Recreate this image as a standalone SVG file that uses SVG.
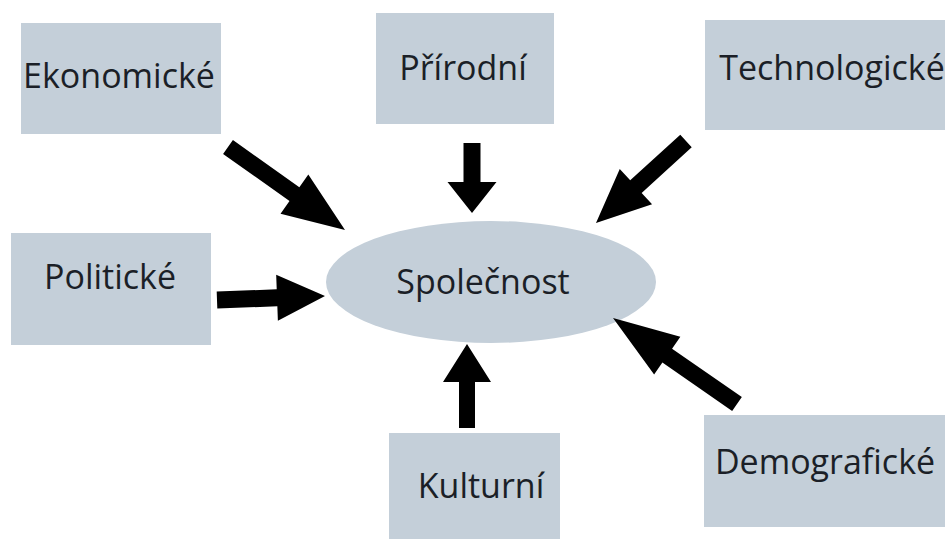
<svg xmlns="http://www.w3.org/2000/svg" width="945" height="539" viewBox="0 0 945 539">
  <style>
    .box { fill: #c4cfd9; }
    .lbl { font-family: "Open Sans", "Liberation Sans", sans-serif; font-size: 34px; fill: #1b1f27; text-anchor: middle; }
    .arrow { fill: #000000; }
  </style>
  <rect x="0" y="0" width="945" height="539" fill="#ffffff"/>

  <g id="node-spolecnost">
    <ellipse class="box" cx="491" cy="282" rx="165" ry="61"/>
    <text class="lbl" x="483" y="294">Společnost</text>
  </g>

  <g id="node-ekonomicke">
    <rect class="box" x="21" y="23" width="200" height="111"/>
    <text class="lbl" x="119" y="88">Ekonomické</text>
  </g>

  <g id="node-prirodni">
    <rect class="box" x="376" y="13" width="178" height="111"/>
    <text class="lbl" x="463" y="80">Přírodní</text>
  </g>

  <g id="node-technologicke">
    <rect class="box" x="705" y="20" width="240" height="110"/>
    <text class="lbl" x="832" y="80">Technologické</text>
  </g>

  <g id="node-politicke">
    <rect class="box" x="11" y="233" width="200" height="112"/>
    <text class="lbl" x="110" y="289">Politické</text>
  </g>

  <g id="node-kulturni">
    <rect class="box" x="389" y="433" width="171" height="106"/>
    <text class="lbl" x="481" y="498">Kulturní</text>
  </g>

  <g id="node-demograficke">
    <rect class="box" x="704" y="415" width="241" height="112"/>
    <text class="lbl" x="825" y="474">Demografické</text>
  </g>

  <g id="connectors">
    <polygon class="arrow" points="223.08,153.93 289.51,201.06 280.54,213.70 345,230 308.32,174.56 299.35,187.20 232.92,140.07"/>
    <polygon class="arrow" points="463.5,143 463.5,182 447.5,182 472,213 496.5,182 480.5,182 480.5,143"/>
    <polygon class="arrow" points="680.28,134.72 630.20,180.35 619.76,168.89 596,223 652.08,204.37 641.64,192.91 691.72,147.28"/>
    <polygon class="arrow" points="217.31,308.49 277.34,306.27 277.88,320.76 325,296 276.18,274.80 276.72,289.29 216.69,291.51"/>
    <polygon class="arrow" points="475,428 475,382 491,382 467,344 443,382 459,382 459,428"/>
    <polygon class="arrow" points="741.84,397.02 672.07,348.63 680.34,336.71 613,318 654.12,374.51 662.39,362.59 732.16,410.98"/>
  </g>
</svg>
